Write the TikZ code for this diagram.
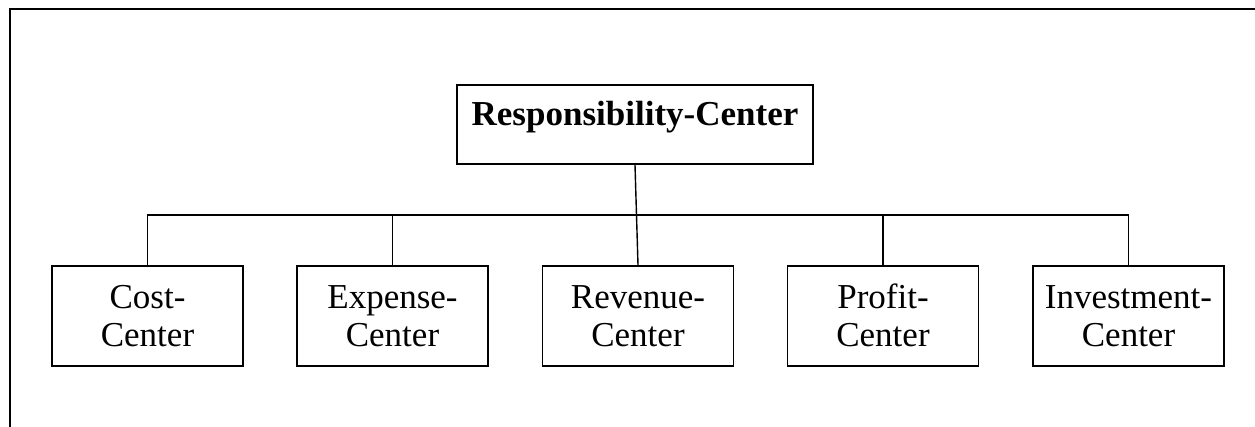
\documentclass[tikz,border=0pt]{standalone}
\usepackage{fontspec}
\setmainfont{Liberation Serif}
\begin{document}
\begin{tikzpicture}[x=1pt,y=-1pt,
  centerbox/.style={draw, line width=1.8pt, inner sep=0pt, minimum width=191pt,
    minimum height=100pt, align=center, font=\fontsize{35}{39}\selectfont,
    text height=72pt, text depth=10pt},
  headbox/.style={draw, line width=1.8pt, inner sep=0pt, minimum width=356pt,
    minimum height=79pt, font=\fontsize{35}{42}\selectfont\bfseries,
    text height=24pt, text depth=21pt},
  link/.style={line width=1.4pt}]
  \useasboundingbox (0,0) rectangle (1255,427);
  % outer frame (top and left edges only)
  \draw[line width=2.4pt] (10,427) -- (10,9) -- (1255,9);

  \node[headbox] (rc) at (635,124.5) {Responsibility-Center};

  \node[centerbox] (cost) at (147.5,316) {Cost-\\Center};
  \node[centerbox] (exp)  at (392.5,316) {Expense-\\Center};
  \node[centerbox] (rev)  at (638,316)   {Revenue-\\Center};
  \node[centerbox] (prof) at (883,316)   {Profit-\\Center};
  \node[centerbox] (inv)  at (1128.5,316) {Investment-\\Center};

  \coordinate (bus) at (0,215);

  % trunk and horizontal bus
  \draw[link] (rc.south) -- (rev.north);
  \draw[link] (cost.north) -- (cost.north |- bus) -- (inv.north |- bus) -- (inv.north);
  \draw[link] (exp.north) -- (exp.north |- bus);
  \draw[link] (prof.north) -- (prof.north |- bus);
\end{tikzpicture}
\end{document}
